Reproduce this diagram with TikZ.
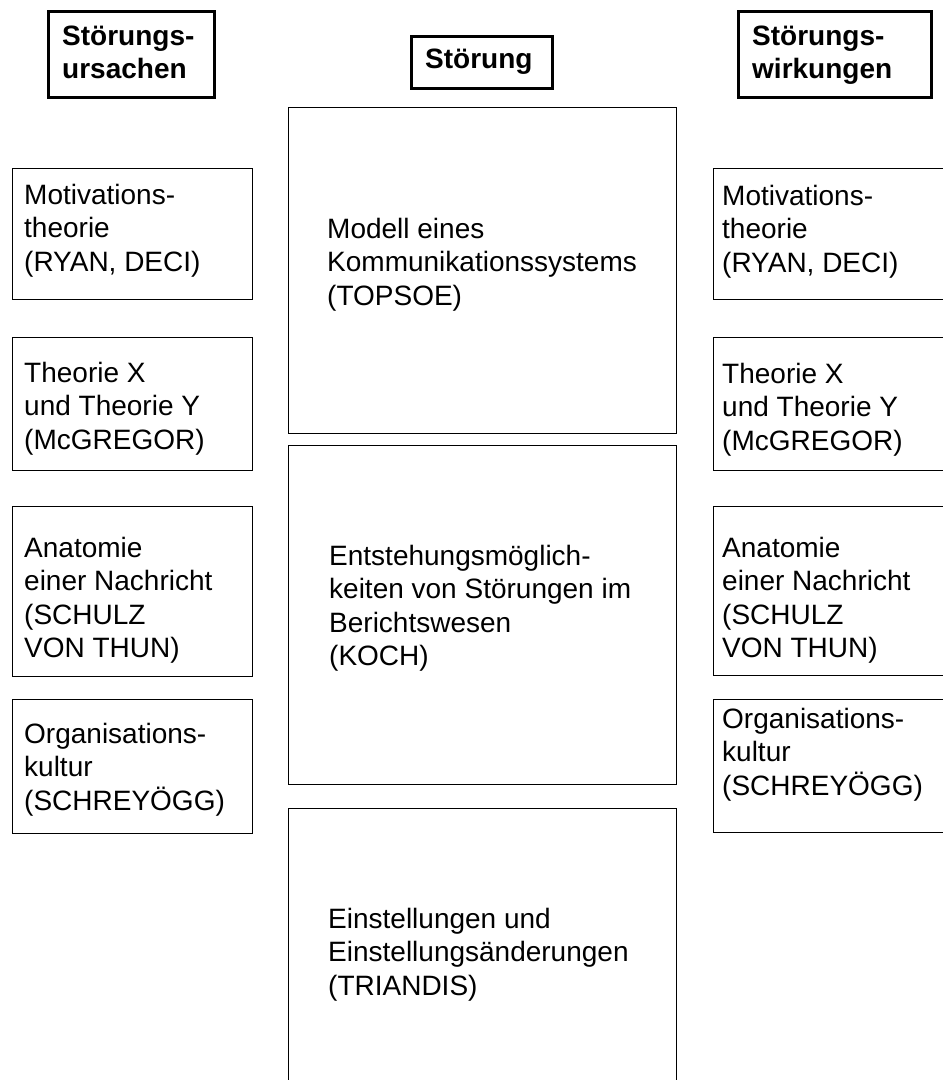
\documentclass[tikz,border=0pt]{standalone}
\usepackage{fontspec}
\setmainfont{Liberation Sans}
\begin{document}
\begin{tikzpicture}[x=1pt,y=-1pt,
  hbox/.style={draw=black, line width=3.2pt, rectangle, inner sep=0pt, anchor=north west},
  pbox/.style={draw=black, line width=1.3pt, rectangle, inner sep=0pt, anchor=north west},
  txt/.style={anchor=north west, inner sep=0pt, align=left, font=\fontsize{28}{33.5}\selectfont},
  htxt/.style={anchor=north west, inner sep=0pt, align=left, font=\fontsize{28}{33.5}\selectfont\bfseries}]
\useasboundingbox (0,0) rectangle (943,1080);
\clip (0,0) rectangle (943,1080);
\fill[white] (0,0) rectangle (943,1080);
% header boxes
\node[hbox, minimum width=166, minimum height=86] (lh) at (46.5,9.5) {};
\node[hbox, minimum width=141, minimum height=52] (ch) at (409.5,34.5) {};
\node[hbox, minimum width=193, minimum height=86] (rh) at (736.5,9.5) {};
\node[htxt] (lht) at (62,23) {\rule{0pt}{22pt}Störungs-\\ursachen};
\node[htxt] (cht) at (425,46) {\rule{0pt}{22pt}Störung};
\node[htxt] (rht) at (752,23) {\rule{0pt}{22pt}Störungs-\\wirkungen};
% left column
\node[pbox, minimum width=240, minimum height=131] (l1) at (11.5,168) {};
\node[pbox, minimum width=240, minimum height=133] (l2) at (11.5,337) {};
\node[pbox, minimum width=240, minimum height=170] (l3) at (11.5,506) {};
\node[pbox, minimum width=240, minimum height=134] (l4) at (11.5,699) {};
\node[txt] (l1t) at (24,182) {\rule{0pt}{22pt}Motivations-\\theorie\\(RYAN, DECI)};
\node[txt] (l2t) at (24,360) {\rule{0pt}{22pt}Theorie X\\und Theorie Y\\(McGREGOR)};
\node[txt] (l3t) at (24,535) {\rule{0pt}{22pt}Anatomie\\einer Nachricht\\(SCHULZ\\VON THUN)};
\node[txt] (l4t) at (24,721) {\rule{0pt}{22pt}Organisations-\\kultur\\(SCHREYÖGG)};
% center column
\node[pbox, minimum width=388, minimum height=326] (c1) at (288,107) {};
\node[pbox, minimum width=388, minimum height=339] (c2) at (288,445) {};
\node[pbox, minimum width=388, minimum height=300] (c3) at (288,808) {};
\node[txt] (c1t) at (327,216) {\rule{0pt}{22pt}Modell eines\\Kommunikationssystems\\(TOPSOE)};
\node[txt] (c2t) at (329,543) {\rule{0pt}{22pt}Entstehungsmöglich-\\keiten von Störungen im\\Berichtswesen\\(KOCH)};
\node[txt] (c3t) at (328,906) {\rule{0pt}{22pt}Einstellungen und\\Einstellungsänderungen\\(TRIANDIS)};
% right column
\node[pbox, minimum width=260, minimum height=131] (r1) at (712.5,168) {};
\node[pbox, minimum width=260, minimum height=133] (r2) at (712.5,337) {};
\node[pbox, minimum width=260, minimum height=169] (r3) at (712.5,506) {};
\node[pbox, minimum width=260, minimum height=133] (r4) at (712.5,699) {};
\node[txt] (r1t) at (722,183) {\rule{0pt}{22pt}Motivations-\\theorie\\(RYAN, DECI)};
\node[txt] (r2t) at (722,361) {\rule{0pt}{22pt}Theorie X\\und Theorie Y\\(McGREGOR)};
\node[txt] (r3t) at (722,535) {\rule{0pt}{22pt}Anatomie\\einer Nachricht\\(SCHULZ\\VON THUN)};
\node[txt] (r4t) at (722,706) {\rule{0pt}{22pt}Organisations-\\kultur\\(SCHREYÖGG)};
\end{tikzpicture}
\end{document}
